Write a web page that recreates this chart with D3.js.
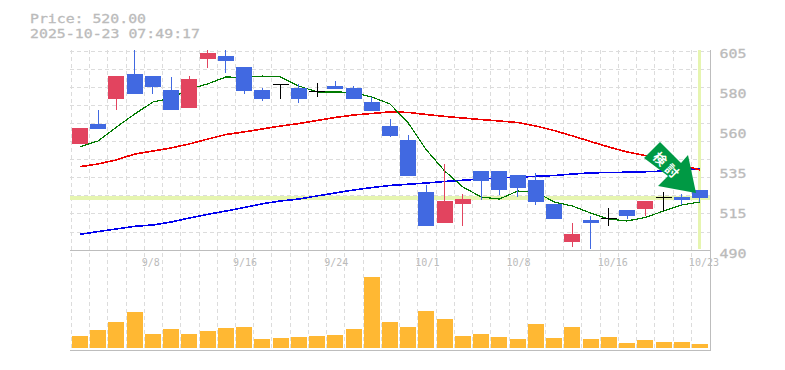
<!DOCTYPE html>
<html><head><meta charset="utf-8">
<script src="https://cdn.jsdelivr.net/npm/d3@7/dist/d3.min.js"></script>
<style>html,body{margin:0;padding:0;background:#fff}svg{display:block}
text{font-family:"DejaVu Sans Mono",monospace;fill:#bbb}</style></head><body>
<svg id="c" width="785" height="370"></svg>
<script>
const dates=["9/2","9/3","9/4","9/5","9/8","9/9","9/10","9/11","9/12","9/16","9/17","9/18","9/19","9/22","9/24","9/25","9/26","9/29","9/30","10/1","10/2","10/3","10/6","10/7","10/8","10/9","10/10","10/14","10/15","10/16","10/17","10/20","10/21","10/22","10/23"];
const opens=[551,562.5,576.8,591.2,590,582,571.7,599.8,601.6,595.2,582,585.5,583.2,581.6,584.3,583.2,575.1,561.3,553.3,523.4,505.5,516.5,535.4,535.4,533.1,530.3,516.5,494.6,507.3,508.4,513,513.6,520.5,520.5,524.5];
const closes=[560.2,559.6,590,579.7,583.7,570.5,588.3,603.3,598.7,581.4,576.8,585.5,576.8,581.6,582.6,576.8,569.9,555.6,532.6,503.8,518.2,519.3,529.7,524.5,525.7,517.6,507.8,499.2,505.5,508.4,509.6,518.2,520.5,518.8,520];
const highs=[560.2,570.5,590,605,590,589.5,590,605,605,595.2,583.2,585.5,585.5,586,587.2,584.3,578,565.3,556.1,527.4,539.5,522.2,535.4,535.4,533.1,534.3,516.5,505.5,509.6,514.2,513,518.2,523.4,522.2,524.5];
const lows=[551,559.6,570.5,579.7,579.7,570.5,571.7,594.7,591.8,579.7,575.7,576.8,574.5,578,582.6,576.8,569.9,555,532.6,503.8,505.5,503.8,518.8,521.6,520.5,515.9,507.8,491.7,490.6,503.8,507.8,509.6,512.4,515.9,517.6];
const ma5=[549.4,552.7,560.7,568.2,575.1,577.4,582.6,585.5,589.5,589.2,590,589.5,584.3,580.9,580.9,580.6,578,574,563,547.5,535.4,526.2,520.5,519.3,523.9,523.4,517.6,515.3,511.3,507.8,506.7,508.7,512.4,515.9,517.6];
const ma25=[537.9,539.5,541.8,545.2,546.9,548.7,551,553.8,556.4,557.9,559.6,561.3,562.7,564.5,566.2,567.6,568.5,569.4,569.1,567.9,566.8,565.9,565,564.2,563.3,561.3,558.7,555.6,552.4,549.2,546.4,544.3,541.8,538.9,536];
const ma75=[499,500.6,502.1,503.6,504.4,506.1,508.4,510.5,512.4,514.4,516.6,518.2,519.3,521.1,522.8,524.5,525.9,527.1,527.8,528.5,529.4,530.1,530.8,531.4,531.8,532.4,532.8,533.7,534.3,534.6,534.7,535,535.4,536,536.9];
const volumes=[12,18,26,36,14,19,14,17,20,21,9,10,11,12,13,19,71,26,21,37,29,12,14,11,9,24,10,21,9,11,5,8,6,6,4];
const priceTickLabels=["605","580","560","535","515","490"];
const dateTickLabels=["9/8","9/16","9/24","10/1","10/8","10/16","10/23"];
const titleLines=["Price: 520.00","2025-10-23 07:49:17"];
const lastPrice=520, badgeText=["検","討"];

const svg=d3.select("#c");
const x=d3.scaleBand().domain(dates).range([70.9,709.1]);
const cx=d=>x(d)+x.step()/2;
const y=d3.scaleLinear().domain([490,605]).range([250,50]);
const yTick=d3.scalePoint().domain(priceTickLabels).range([50,250]);
const yVol=d3.scaleLinear().domain([0,100]).range([348,248]);
const BODY=16, GRID="#dcdcdc", AXIS="#bdbdbd", BAND="#e6f5b0";
const RED="#e2445f", BLUE="#4169e1", BAR="#ffb833";

// grid
const gridG=svg.append("g").attr("stroke",GRID).attr("stroke-width",1.3).attr("stroke-dasharray","4 3").attr("shape-rendering","crispEdges");
gridG.selectAll(".v").data(dates).join("line").attr("x1",d=>Math.round(x(d))+.5).attr("x2",d=>Math.round(x(d))+.5).attr("y1",50).attr("y2",350);
gridG.selectAll(".h").data(d3.range(12)).join("line").attr("x1",70).attr("x2",710).attr("y1",d=>Math.round(50.5+d*18.1)+.5).attr("y2",d=>Math.round(50.5+d*18.1)+.5);

// current price bands
svg.append("rect").attr("x",70).attr("width",640).attr("y",Math.round(y(lastPrice))-2).attr("height",4).attr("fill",BAND).attr("shape-rendering","crispEdges");
svg.append("rect").attr("x",Math.floor(cx(dates[34]))-1).attr("width",3).attr("y",50).attr("height",199).attr("fill",BAND);

// axes frame
const frame=svg.append("g").attr("stroke",AXIS).attr("stroke-width",1.5).attr("shape-rendering","crispEdges");
frame.append("line").attr("x1",70).attr("x2",711).attr("y1",250.5).attr("y2",250.5);
frame.append("line").attr("x1",70).attr("x2",711).attr("y1",350.5).attr("y2",350.5);
frame.append("line").attr("x1",710.5).attr("x2",710.5).attr("y1",50).attr("y2",351);

// moving averages (below candles)
const line=d3.line().x((d,i)=>cx(dates[i])).y(d=>y(d));
[[ma75,"#0000ee",1.6],[ma25,"#ee0000",1.6],[ma5,"#007a00",1.2]].forEach(([s,c,w])=>{
  svg.append("path").attr("d",line(s)).attr("fill","none").attr("stroke",c).attr("stroke-width",w).attr("shape-rendering","crispEdges");
});

// candles
const colorOf=i=>closes[i]>opens[i]?RED:closes[i]<opens[i]?BLUE:"#000";
const cG=svg.append("g").attr("shape-rendering","crispEdges");
dates.forEach((d,i)=>{
  const c=colorOf(i), left=Math.round(cx(d)-BODY/2), wx=Math.floor(cx(d));
  const top=y(Math.max(opens[i],closes[i])), bot=y(Math.min(opens[i],closes[i]));
  cG.append("rect").attr("x",wx).attr("width",1).attr("y",y(highs[i])).attr("height",y(lows[i])-y(highs[i])).attr("fill",c);
  cG.append("rect").attr("x",left).attr("width",BODY).attr("y",top).attr("height",Math.max(bot-top,1.4)).attr("fill",c);
});

// volume
svg.append("g").attr("shape-rendering","crispEdges").selectAll("rect").data(volumes).join("rect")
  .attr("x",(d,i)=>Math.round(cx(dates[i])-BODY/2)).attr("width",BODY)
  .attr("y",d=>yVol(d)).attr("height",d=>yVol(0)-yVol(d)).attr("fill",BAR);

// text
svg.selectAll(".t").data(titleLines).join("text").attr("x",30).attr("y",(d,i)=>23+i*15).attr("font-size",12.8)
  .attr("textLength",d=>d.length*9-1).attr("lengthAdjust","spacingAndGlyphs").attr("stroke","#bbb").attr("stroke-width",.3).text(d=>d);
svg.selectAll(".p").data(priceTickLabels).join("text").attr("x",719.5).attr("y",d=>yTick(d)+7.5).attr("font-size",13)
  .attr("textLength",27).attr("lengthAdjust","spacingAndGlyphs").attr("stroke","#bbb").attr("stroke-width",.3).text(d=>d);
svg.selectAll(".d").data(dateTickLabels).join("text").attr("x",d=>x(d)-2).attr("y",266).attr("font-size",10).text(d=>d);

// badge
svg.append("polygon").attr("points","660,142 681,163 688,155 696,193 658,186 668,176 644,158").attr("fill","#009944");
badgeText.forEach((t,i)=>{
  const p=[[660,159],[672,171]][i];
  svg.append("text").attr("transform",`translate(${p[0]},${p[1]}) rotate(45)`).attr("text-anchor","middle").attr("dy","0.36em")
    .attr("font-size",13).attr("font-weight",700).style("font-family",'"Noto Sans CJK JP"').style("fill","#fff").text(t);
});
</script></body></html>
